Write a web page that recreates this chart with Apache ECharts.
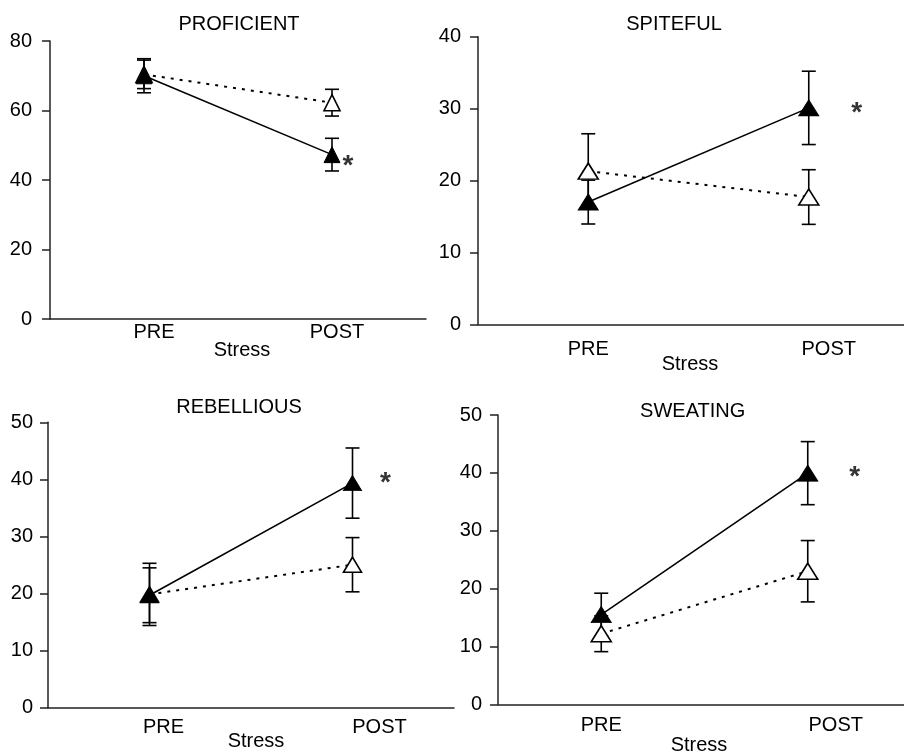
<!DOCTYPE html>
<html>
<head>
<meta charset="utf-8">
<script src="https://cdn.jsdelivr.net/npm/echarts@6/dist/echarts.min.js"></script>
<style>html,body{margin:0;padding:0;background:#fff;}#c{width:904px;height:753px;}</style>
</head>
<body>
<div id="c"></div>
<script>
// ---------- DATA ----------
const categories = ['PRE', 'POST'];
const panelTitles = ['PROFICIENT', 'SPITEFUL', 'REBELLIOUS', 'SWEATING'];
const xAxisTitle = 'Stress';
const yMax = [80, 40, 50, 50];
const yInterval = [20, 10, 10, 10];
// filled triangles (solid line)
const filledMean = [[70.0, 47.3], [17.0, 30.1], [19.7, 39.35], [15.5, 39.95]];
const filledErr  = [[4.9, 4.7], [3.05, 5.1], [4.8, 6.15], [3.7, 5.45]];
// open triangles (dotted line)
const openMean = [[70.4, 62.25], [21.3, 17.7], [19.85, 25.05], [12.2, 23.0]];
const openErr  = [[4.1, 3.85], [5.2, 3.8], [5.45, 4.75], [3.1, 5.3]];
// significance marker on the filled POST point
const sigMark = '*';

// ---------- LAYOUT (styles / positions only) ----------
const FONT = "'Liberation Sans', Arial, Helvetica, sans-serif";
const FS = 20;
const grids = [
  {left: 50, top: 41, width: 376, height: 278},
  {left: 478, top: 36.7, width: 441, height: 287.6},
  {left: 48, top: 422.3, width: 406, height: 285.4},
  {left: 498, top: 415, width: 413, height: 289.3}
];
const yLabelMargin = [18, 17, 15, 16];
const xLabelMargin = [3, 15, 10, 11];
const xLabelShift = [[10, 5], [0, 20], [14, 27], [0, 28]];
const symSize = [[16, 16], [20, 16], [18, 15], [20, 16]];
const sigOffset = [[16, 12], [48, 5], [33, 0], [47, 4]];
const titlePos = [[239, 24], [674, 24], [239, 407.5], [692.7, 411]];
const stressPos = [[242, 350.5], [690, 364], [256, 741.7], [699, 745]];

const grid = [], xAxis = [], yAxis = [], series = [], graphic = [];

function errRender(params, api) {
  const x = api.value(0), lo = api.value(1), hi = api.value(2);
  const t = api.coord([x, hi]), b = api.coord([x, lo]);
  const hw = 7;
  const st = {stroke: '#000', lineWidth: 1.6};
  return {type: 'group', children: [
    {type: 'line', shape: {x1: t[0], y1: t[1], x2: b[0], y2: b[1]}, style: st},
    {type: 'line', shape: {x1: t[0] - hw, y1: t[1], x2: t[0] + hw, y2: t[1]}, style: st},
    {type: 'line', shape: {x1: b[0] - hw, y1: b[1], x2: b[0] + hw, y2: b[1]}, style: st}
  ]};
}

for (let p = 0; p < 4; p++) {
  grid.push(Object.assign({outerBoundsMode: 'none', containLabel: false}, grids[p]));
  const sh = xLabelShift[p];
  xAxis.push({
    type: 'category', gridIndex: p, data: categories, boundaryGap: true,
    axisLine: {lineStyle: {color: '#222', width: 1.5}},
    axisTick: {show: false},
    axisLabel: {
      margin: xLabelMargin[p], color: '#000', fontFamily: FONT, fontSize: FS,
      formatter: (v, i) => '{l' + i + '|' + v + '}',
      rich: {
        l0: {fontFamily: FONT, fontSize: FS, color: '#000', padding: [0, 0, 0, 2 * sh[0]]},
        l1: {fontFamily: FONT, fontSize: FS, color: '#000', padding: [0, 0, 0, 2 * sh[1]]}
      }
    },
    splitLine: {show: false}
  });
  yAxis.push({
    type: 'value', gridIndex: p, min: 0, max: yMax[p], interval: yInterval[p],
    axisLine: {show: true, lineStyle: {color: '#222', width: 1.5}},
    axisTick: {show: true, inside: false, length: 8, lineStyle: {color: '#222', width: 1.5}},
    axisLabel: {margin: yLabelMargin[p], color: '#000', fontFamily: FONT, fontSize: FS},
    splitLine: {show: false}
  });
  // error bars (beneath markers)
  series.push({
    type: 'custom', xAxisIndex: p, yAxisIndex: p, z: 1, renderItem: errRender,
    encode: {x: 0, y: [1, 2]},
    data: openMean[p].map((m, i) => [i, m - openErr[p][i], m + openErr[p][i]])
  });
  series.push({
    type: 'custom', xAxisIndex: p, yAxisIndex: p, z: 1, renderItem: errRender,
    encode: {x: 0, y: [1, 2]},
    data: filledMean[p].map((m, i) => [i, m - filledErr[p][i], m + filledErr[p][i]])
  });
  // open series (dotted)
  series.push({
    type: 'line', xAxisIndex: p, yAxisIndex: p, z: 3,
    data: openMean[p],
    symbol: 'triangle', symbolSize: symSize[p],
    itemStyle: {color: '#fff', borderColor: '#000', borderWidth: 1.6},
    lineStyle: {color: '#000', width: 2, type: [3, 6]}
  });
  // filled series (solid)
  series.push({
    type: 'line', xAxisIndex: p, yAxisIndex: p, z: 4,
    data: filledMean[p],
    symbol: 'triangle', symbolSize: symSize[p],
    itemStyle: {color: '#000', borderColor: '#000', borderWidth: 1},
    lineStyle: {color: '#000', width: 1.6, type: 'solid'}
  });
  // significance asterisk
  series.push({
    type: 'scatter', xAxisIndex: p, yAxisIndex: p, z: 5,
    data: [[1, filledMean[p][1]]], symbolSize: 0, silent: true,
    label: {show: true, formatter: sigMark, position: 'inside', offset: sigOffset[p],
      color: '#000', fontFamily: FONT, fontSize: 28, fontWeight: 'bold'}
  });
  graphic.push({type: 'text', x: titlePos[p][0], y: titlePos[p][1],
    style: {text: panelTitles[p], fill: '#000', font: FS + 'px ' + FONT, align: 'center', verticalAlign: 'middle', textAlign: 'center', textVerticalAlign: 'middle'}});
  graphic.push({type: 'text', x: stressPos[p][0], y: stressPos[p][1],
    style: {text: xAxisTitle, fill: '#000', font: FS + 'px ' + FONT, align: 'center', verticalAlign: 'middle', textAlign: 'center', textVerticalAlign: 'middle'}});
}

const chart = echarts.init(document.getElementById('c'), null, {renderer: 'canvas'});
chart.setOption({
  animation: false,
  backgroundColor: '#fff',
  grid, xAxis, yAxis, series, graphic
});
</script>
</body>
</html>
